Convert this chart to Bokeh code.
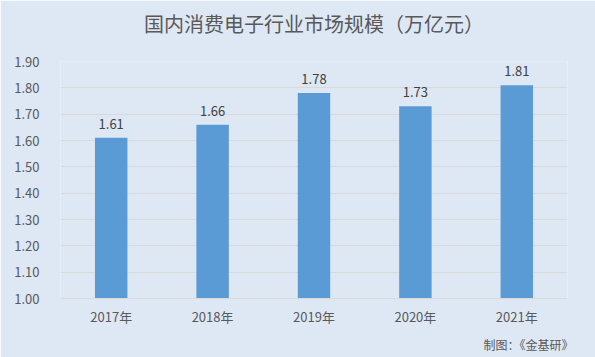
from bokeh.plotting import figure
from bokeh.models import ColumnDataSource, Range1d, FactorRange, Title, FixedTicker, NumeralTickFormatter
from bokeh.core.properties import value
from bokeh.embed import file_html
from bokeh.resources import INLINE

years = ["2017年", "2018年", "2019年", "2020年", "2021年"]
sizes = [1.61, 1.66, 1.78, 1.73, 1.81]
labels = ["1.61", "1.66", "1.78", "1.73", "1.81"]
y_ticks = [1.0, 1.1, 1.2, 1.3, 1.4, 1.5, 1.6, 1.7, 1.8, 1.9]

BG = "#DEE8F4"
FONT = "Noto Sans CJK SC"

src = ColumnDataSource(dict(x=years, y=sizes, t=labels))

p = figure(width=595, height=357, x_range=FactorRange(*years, range_padding=0),
           y_range=Range1d(1.0, 1.9), output_backend="svg", toolbar_location=None,
           min_border_left=60, min_border_right=28, min_border_top=61, min_border_bottom=59)
p.background_fill_color = BG
p.border_fill_color = BG
p.outline_line_color = None

p.title.text = "国内消费电子行业市场规模（万亿元）"
p.title.align = "center"
p.title.text_font = FONT
p.title.text_font_size = "20px"
p.title.text_font_style = "normal"
p.title.text_color = "#595959"
p.title.offset = 0
p.title.standoff = 0

# spacer between the title and the plot frame
p.add_layout(Title(text=" ", text_font_size="20px", standoff=0), "above")

p.vbar(x="x", top="y", bottom=1.0, width=0.32, source=src, color="#5B9BD5", line_color=None)
p.text(x="x", y="y", text="t", source=src, text_align="center", text_baseline="bottom",
       y_offset=-9, text_font=value(FONT), text_font_size="13px", text_color="#404040")

p.yaxis.ticker = FixedTicker(ticks=y_ticks)
p.yaxis.formatter = NumeralTickFormatter(format="0.00")
p.yaxis.axis_line_color = None
p.yaxis.major_tick_line_color = None
p.yaxis.minor_tick_line_color = None
p.yaxis.major_label_standoff = 15
p.yaxis.major_label_text_font = FONT
p.yaxis.major_label_text_font_size = "13px"
p.yaxis.major_label_text_color = "#595959"

p.xaxis.axis_line_color = "#D9D9D9"
p.xaxis.major_tick_line_color = None
p.xaxis.minor_tick_line_color = None
p.xaxis.major_label_standoff = 2
p.xaxis.major_label_text_font = FONT
p.xaxis.major_label_text_font_size = "13px"
p.xaxis.major_label_text_color = "#595959"

p.xgrid.grid_line_color = None
p.ygrid.grid_line_color = "#D9D9D9"
p.ygrid.ticker = FixedTicker(ticks=y_ticks)

p.add_layout(Title(text="制图：《金基研》", align="right", text_font=FONT, text_font_size="12px",
                   text_font_style="normal", text_color="#595959", standoff=10, offset=-6), "below")

open("out.html", "w").write(file_html(p, INLINE))
